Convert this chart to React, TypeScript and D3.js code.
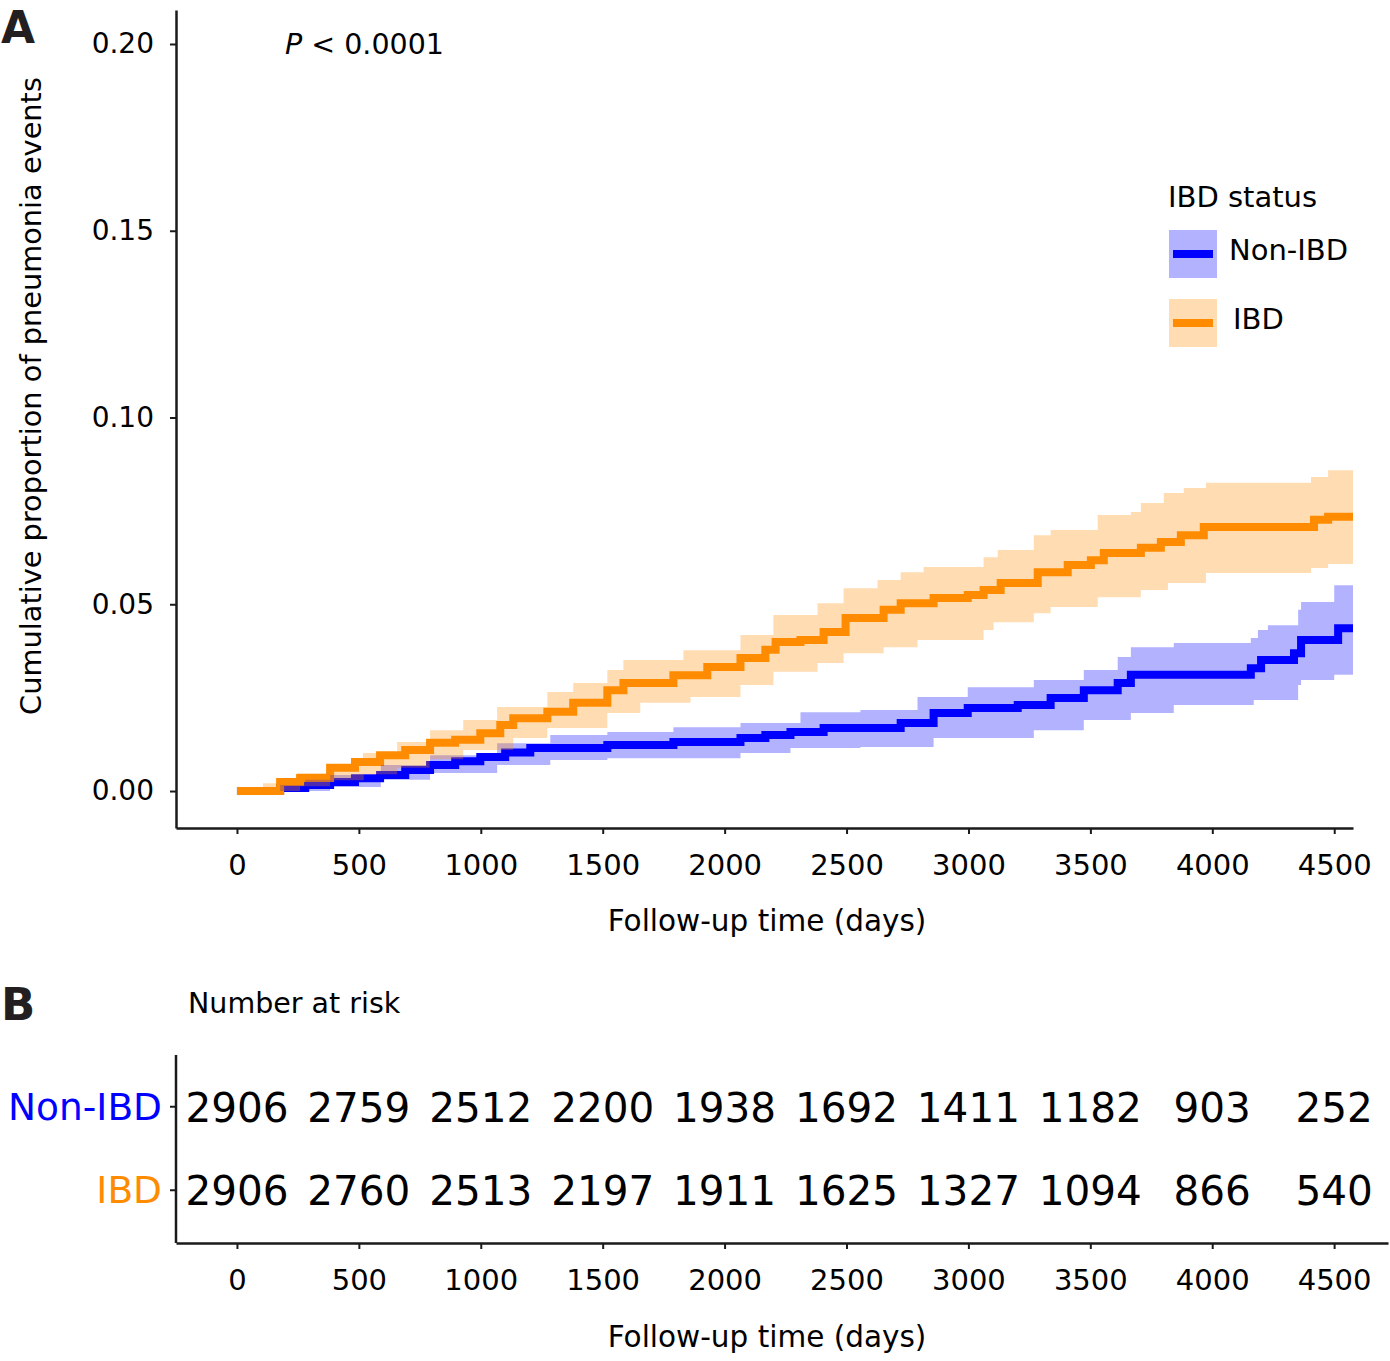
import { useEffect, useRef } from 'react';
import * as d3 from 'd3';

type Pt = [number, number];

// [day, cumulative proportion]
const groups = ['Non-IBD', 'IBD'];
const groupColors = ['#0000ff', '#ff8c00'];
const lastDay = 4577;

const nonIbdEst: Pt[] = [
  [0, 0], [127, 0], [177, 0.0008], [280, 0.0016], [382, 0.0024], [484, 0.0034], [587, 0.0043],
  [690, 0.0056], [792, 0.007], [895, 0.008], [998, 0.0091], [1100, 0.0103],
  [1203, 0.0115], [1519, 0.0123], [1790, 0.0131], [2065, 0.0142], [2167, 0.015], [2270, 0.0158],
  [2406, 0.0169], [2722, 0.0182], [2857, 0.0209], [2997, 0.0222], [3202, 0.023], [3337, 0.0249],
  [3473, 0.027], [3612, 0.0289], [3666, 0.0311], [4158, 0.0329], [4200, 0.0351], [4335, 0.0369],
  [4364, 0.0404], [4516, 0.0436],
];
const nonIbdHi: Pt[] = [
  [0, 0], [127, 0], [177, 0.0016], [280, 0.003], [382, 0.0043], [590, 0.007], [792, 0.0096],
  [1067, 0.0128], [1285, 0.015],
  [1519, 0.0158], [1790, 0.0171], [2065, 0.0182], [2311, 0.0211], [2557, 0.0217], [2791, 0.0252],
  [2997, 0.0278], [3268, 0.0297], [3473, 0.0324], [3612, 0.0359], [3666, 0.0385], [3842, 0.0396],
  [4158, 0.041], [4187, 0.0431], [4228, 0.0444], [4352, 0.0485], [4364, 0.0506], [4500, 0.0551],
];
const nonIbdLo: Pt[] = [
  [0, 0], [382, 0.0011], [590, 0.003], [792, 0.0048], [1067, 0.007], [1285, 0.0083], [1519, 0.0088],
  [2065, 0.0102], [2270, 0.0115], [2557, 0.0118], [2857, 0.0142], [3268, 0.0163], [3473, 0.019],
  [3666, 0.0209], [3842, 0.023], [4170, 0.0244], [4352, 0.0284], [4364, 0.0297], [4500, 0.0311],
];

const ibdEst: Pt[] = [
  [0, 0], [115, 0], [177, 0.0024], [259, 0.0035], [382, 0.0062], [484, 0.0078], [587, 0.0096],
  [690, 0.011], [792, 0.0129], [895, 0.0137], [998, 0.0155], [1080, 0.0177], [1133, 0.0195],
  [1273, 0.0212], [1379, 0.0236], [1519, 0.027], [1585, 0.0289], [1790, 0.031], [1929, 0.0332],
  [2065, 0.0356], [2167, 0.0378], [2209, 0.0399], [2311, 0.0404], [2406, 0.0426], [2496, 0.0463],
  [2652, 0.0485], [2722, 0.0503], [2857, 0.0517], [2997, 0.0525], [3062, 0.0538], [3132, 0.0557],
  [3284, 0.0586], [3407, 0.0605], [3502, 0.0618], [3555, 0.0637], [3707, 0.0651], [3789, 0.0667],
  [3871, 0.0685], [3965, 0.0707], [4417, 0.0726], [4475, 0.0734],
];
const ibdHi: Pt[] = [
  [0, 0], [107, 0.0021], [246, 0.0048], [382, 0.007], [517, 0.0102], [657, 0.0131], [792, 0.0163],
  [928, 0.019], [1067, 0.0225], [1273, 0.0265], [1379, 0.0289], [1519, 0.0324], [1585, 0.0351],
  [1831, 0.0377], [2065, 0.0418], [2200, 0.0471], [2381, 0.0503], [2488, 0.0543], [2627, 0.0565],
  [2722, 0.0586], [2816, 0.06], [3062, 0.0626], [3120, 0.0645], [3268, 0.0685], [3337, 0.0699],
  [3530, 0.0739], [3666, 0.0747], [3707, 0.0771], [3801, 0.0798], [3883, 0.0811], [3974, 0.0825],
  [4405, 0.0841], [4475, 0.0859],
];
const ibdLo: Pt[] = [
  [0, 0], [259, 0.0013], [382, 0.0029], [520, 0.0045], [657, 0.0062], [790, 0.0085], [928, 0.011],
  [1133, 0.0142], [1273, 0.0169], [1519, 0.0209], [1654, 0.0236], [1860, 0.0252], [2065, 0.0284],
  [2200, 0.0319], [2381, 0.0343], [2488, 0.0369], [2652, 0.0385], [2791, 0.0404], [3062, 0.0431],
  [3103, 0.0452], [3268, 0.0476], [3337, 0.0493], [3530, 0.0519], [3707, 0.0538], [3818, 0.0557],
  [3974, 0.0584], [4405, 0.0597], [4475, 0.0608],
];

const xTicks = [0, 500, 1000, 1500, 2000, 2500, 3000, 3500, 4000, 4500];
const yTicks = [0, 0.05, 0.1, 0.15, 0.2];
const atRiskNonIbd = [2906, 2759, 2512, 2200, 1938, 1692, 1411, 1182, 903, 252];
const atRiskIbd = [2906, 2760, 2513, 2197, 1911, 1625, 1327, 1094, 866, 540];

const FONT = 'DejaVu Sans, Verdana, sans-serif';
const INK = '#1a1a1a';

function stepAt(series: Pt[], t: number) {
  let v = series[0][1];
  for (const [d, val] of series) {
    if (d <= t) v = val;
    else break;
  }
  return v;
}

function withEnd(series: Pt[]): Pt[] {
  return [...series, [lastDay, series[series.length - 1][1]]];
}

function band(lo: Pt[], hi: Pt[]) {
  const times = Array.from(new Set([...lo.map(d => d[0]), ...hi.map(d => d[0]), lastDay])).sort((a, b) => a - b);
  return times.map(t => ({ t, lo: stepAt(lo, t), hi: stepAt(hi, t) }));
}

export default function App() {
  const svgRef = useRef<SVGSVGElement>(null);

  useEffect(() => {
    if (!svgRef.current) return;
    const svg = d3.select(svgRef.current);
    svg.selectAll('*').remove();

    // ---------- Panel A ----------
    const x = d3.scaleLinear().domain([-250, lastDay]).range([176, 1353]);
    const y = d3.scaleLinear().domain([-0.0099, 0.2091]).range([828, 10]);

    const line = d3.line<Pt>().x(d => x(d[0])).y(d => y(d[1])).curve(d3.curveStepAfter);
    const area = d3.area<{ t: number; lo: number; hi: number }>()
      .x(d => x(d.t)).y0(d => y(d.lo)).y1(d => y(d.hi)).curve(d3.curveStepAfter);

    const series = [
      { est: nonIbdEst, lo: nonIbdLo, hi: nonIbdHi },
      { est: ibdEst, lo: ibdLo, hi: ibdHi },
    ];

    const gA = svg.append('g');

    // step lines first, ribbons on top (as in the original)
    series.forEach((s, i) => {
      gA.append('path')
        .attr('d', line(withEnd(s.est)) || '')
        .attr('fill', 'none')
        .attr('stroke', groupColors[i])
        .attr('stroke-width', 8);
    });
    series.forEach((s, i) => {
      gA.append('path')
        .attr('d', area(band(s.lo, s.hi)) || '')
        .attr('fill', groupColors[i])
        .attr('fill-opacity', 0.3);
    });

    const styleAxis = (g: d3.Selection<SVGGElement, unknown, null, undefined>, size: number) => {
      g.select('.domain').attr('stroke', INK).attr('stroke-width', 2.5);
      g.selectAll('.tick line').attr('stroke', INK).attr('stroke-width', 2);
      g.selectAll('.tick text').attr('fill', '#000').style('font-family', FONT).style('font-size', `${size}px`);
    };

    const yAxis = gA.append('g')
      .attr('transform', 'translate(176,0)')
      .call(d3.axisLeft(y).tickValues(yTicks).tickFormat(d3.format('.2f')).tickSize(6).tickSizeOuter(0).tickPadding(16));
    styleAxis(yAxis, 28);

    const xAxis = gA.append('g')
      .attr('transform', 'translate(0,828)')
      .call(d3.axisBottom(x).tickValues(xTicks).tickFormat(d3.format('d')).tickSize(6).tickSizeOuter(0).tickPadding(20));
    styleAxis(xAxis, 29);

    gA.append('text')
      .attr('x', 767).attr('y', 931)
      .attr('text-anchor', 'middle')
      .style('font-family', FONT).style('font-size', '29.5px')
      .text('Follow-up time (days)');

    gA.append('text')
      .attr('transform', 'translate(41,396) rotate(-90)')
      .attr('text-anchor', 'middle')
      .style('font-family', FONT).style('font-size', '28.8px')
      .text('Cumulative proportion of pneumonia events');

    const pText = gA.append('text')
      .attr('x', 285).attr('y', 54)
      .style('font-family', FONT).style('font-size', '28.5px');
    pText.append('tspan').attr('font-style', 'italic').text('P');
    pText.append('tspan').text(' < 0.0001');

    // Legend
    const legend = gA.append('g');
    legend.append('text')
      .attr('x', 1168).attr('y', 207)
      .style('font-family', FONT).style('font-size', '29px')
      .text('IBD status');
    groups.forEach((name, i) => {
      const top = 230 + i * 69;
      legend.append('rect')
        .attr('x', 1169).attr('y', top).attr('width', 48).attr('height', 48)
        .attr('fill', groupColors[i]).attr('fill-opacity', 0.3);
      legend.append('line')
        .attr('x1', 1173).attr('x2', 1213).attr('y1', top + 24).attr('y2', top + 24)
        .attr('stroke', groupColors[i]).attr('stroke-width', 8);
      legend.append('text')
        .attr('x', i === 0 ? 1229 : 1233).attr('y', top + 30)
        .style('font-family', FONT).style('font-size', '29px')
        .text(name);
    });

    svg.append('text')
      .attr('x', 1).attr('y', 43)
      .style('font-family', FONT).style('font-size', '44px').style('font-weight', 'bold')
      .attr('fill', '#231f20')
      .text('A');

    // ---------- Panel B: number at risk ----------
    const xb = d3.scaleLinear().domain([-250, 4721]).range([176, 1388]);
    const yb = d3.scaleBand<string>().domain(groups).range([1065, 1232]).padding(0);

    const gB = svg.append('g');

    svg.append('text')
      .attr('x', 1).attr('y', 1020)
      .style('font-family', FONT).style('font-size', '45px').style('font-weight', 'bold')
      .attr('fill', '#231f20')
      .text('B');

    gB.append('text')
      .attr('x', 188).attr('y', 1013)
      .style('font-family', FONT).style('font-size', '28.5px')
      .text('Number at risk');

    // y axis line with row ticks
    gB.append('line')
      .attr('x1', 176).attr('x2', 176).attr('y1', 1055).attr('y2', 1243)
      .attr('stroke', INK).attr('stroke-width', 2.5);
    groups.forEach((name, i) => {
      const cy = (yb(name) || 0) + yb.bandwidth() / 2;
      gB.append('line')
        .attr('x1', 170).attr('x2', 176).attr('y1', cy).attr('y2', cy)
        .attr('stroke', INK).attr('stroke-width', 2);
      gB.append('text')
        .attr('x', 162).attr('y', cy + 13)
        .attr('text-anchor', 'end')
        .attr('fill', groupColors[i])
        .style('font-family', FONT).style('font-size', '37.5px')
        .text(name);
    });

    const rows = [atRiskNonIbd, atRiskIbd];
    rows.forEach((vals, i) => {
      const cy = (yb(groups[i]) || 0) + yb.bandwidth() / 2;
      gB.selectAll(`.risk-${i}`)
        .data(vals)
        .enter()
        .append('text')
        .attr('class', `risk-${i}`)
        .attr('x', (_d, j) => xb(xTicks[j]))
        .attr('y', cy + 15)
        .attr('text-anchor', 'middle')
        .attr('fill', '#000')
        .style('font-family', FONT).style('font-size', '40.5px')
        .text(d => String(d));
    });

    const xAxisB = gB.append('g')
      .attr('transform', 'translate(0,1243)')
      .call(d3.axisBottom(xb).tickValues(xTicks).tickFormat(d3.format('d')).tickSize(6).tickSizeOuter(0).tickPadding(20));
    styleAxis(xAxisB, 29);

    gB.append('text')
      .attr('x', 767).attr('y', 1347)
      .attr('text-anchor', 'middle')
      .style('font-family', FONT).style('font-size', '29.5px')
      .text('Follow-up time (days)');
  }, []);

  return (
    <div style={{ position: 'absolute', left: 0, top: 0 }}>
      <svg ref={svgRef} width={1390} height={1361} style={{ display: 'block', background: '#fff' }} />
    </div>
  );
}
